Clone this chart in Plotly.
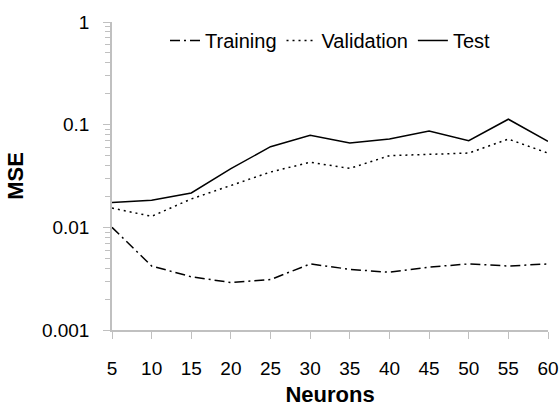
import plotly.graph_objects as go

neurons = [5, 10, 15, 20, 25, 30, 35, 40, 45, 50, 55, 60]
training = [0.0100, 0.0042, 0.0033, 0.0029, 0.0031, 0.0044, 0.0039, 0.00365, 0.0041, 0.0044, 0.0042, 0.0044]
validation = [0.0154, 0.0128, 0.0189, 0.0256, 0.0346, 0.0430, 0.0375, 0.0499, 0.0517, 0.0529, 0.0724, 0.0529]
test = [0.0175, 0.0184, 0.0216, 0.0373, 0.0610, 0.0787, 0.0662, 0.0725, 0.0867, 0.0698, 0.1130, 0.0688]

y_tickvals = [0.001, 0.01, 0.1, 1]
y_ticktext = ["0.001", "0.01", "0.1", "1"]
y_minor = [m * d for d in [0.001, 0.01, 0.1] for m in range(2, 10)]

FONT = "Liberation Sans, Arial, sans-serif"

fig = go.Figure()
fig.add_trace(go.Scatter(x=neurons, y=training, name="Training", mode="lines",
                         line=dict(color="black", width=1.5, dash="10px,4px,2px,4px")))
fig.add_trace(go.Scatter(x=neurons, y=validation, name="Validation", mode="lines",
                         line=dict(color="black", width=1.5, dash="2px,4px")))
fig.add_trace(go.Scatter(x=neurons, y=test, name="Test", mode="lines",
                         line=dict(color="black", width=1.5)))

fig.update_layout(
    width=559, height=407,
    margin=dict(l=112, r=11, t=22, b=77, autoexpand=False),
    paper_bgcolor="white", plot_bgcolor="white",
    font=dict(family=FONT, size=19, color="black"),
    showlegend=True,
    legend=dict(orientation="h", x=0.5, xanchor="center", y=0.94, yanchor="middle",
                font=dict(size=20), itemwidth=30, bgcolor="rgba(0,0,0,0)"),
    xaxis=dict(range=[5, 60], tickvals=neurons, showgrid=False, zeroline=False,
               automargin=False,
               showline=True, linecolor="#c0c0c0", linewidth=1.5,
               ticks="outside", ticklen=7, tickcolor="#c0c0c0", tickwidth=1,
               ticklabelstandoff=13,
               title=dict(text="<b>Neurons</b>", font=dict(size=22), standoff=12)),
    yaxis=dict(type="log", range=[-3, 0], tickvals=y_tickvals, ticktext=y_ticktext,
               showgrid=False, zeroline=False, automargin=False,
               showline=True, linecolor="#c0c0c0", linewidth=1.5,
               ticks="outside", ticklen=7, tickcolor="#c0c0c0", tickwidth=1,
               ticklabelstandoff=10,
               minor=dict(tickvals=y_minor, ticks="outside", ticklen=5,
                          tickcolor="#c0c0c0", showgrid=False),
               title=dict(text="<b>MSE</b>", font=dict(size=22), standoff=12)),
)

fig.write_html("out.html")
